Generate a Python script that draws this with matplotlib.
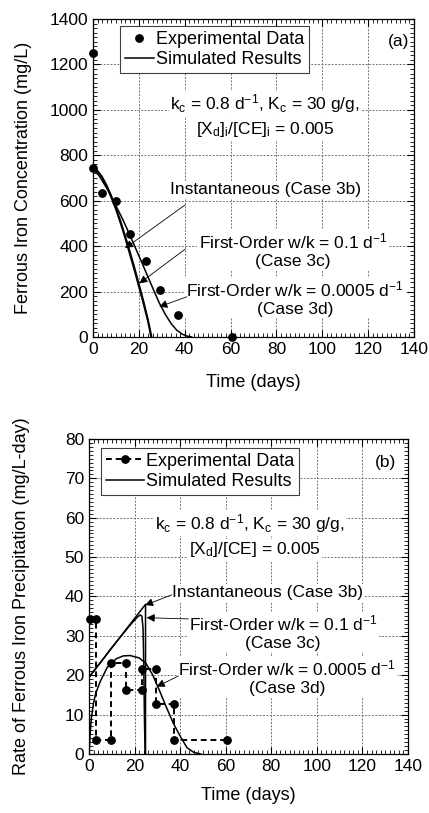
import numpy as np
import matplotlib
matplotlib.use("Agg")
import matplotlib.pyplot as plt
from matplotlib.ticker import MultipleLocator

plt.rcParams["font.family"] = ["Liberation Sans", "DejaVu Sans"]
plt.rcParams["mathtext.fontset"] = "custom"
plt.rcParams["mathtext.rm"] = "Liberation Sans"
plt.rcParams["mathtext.it"] = "Liberation Sans:italic"

# ---- panel (a): ferrous iron concentration ----
exp_t_a = [0, 0, 3.8, 9.9, 16.3, 23.2, 29.0, 36.9, 60.5]
exp_c_a = [1250, 742, 633, 600, 452, 335, 206, 97, 0]

inst_t_a = [0, 2, 4, 6, 8, 10, 12, 14, 16, 18, 20, 22, 24, 25.3]
inst_c_a = [740, 728, 700, 660, 612, 560, 500, 435, 365, 295, 220, 145, 65, 0]

fo1_t_a = [0, 2, 4, 6, 8, 10, 12, 14, 16, 18, 20, 22, 24, 25.6]
fo1_c_a = [742, 732, 706, 668, 622, 570, 512, 448, 380, 310, 236, 160, 78, 0]

fo2_t_a = [0, 3, 7.3, 10, 13.1, 16, 18.9, 21.5, 23.9, 26.5, 29, 31.5, 34, 36.5, 39, 41, 43]
fo2_c_a = [742, 705, 633, 578, 515, 450, 383, 323, 266, 205, 148, 100, 60, 30, 12, 4, 0]

# ---- panel (b): precipitation rate ----
exp_t_b = [0.4, 3.0, 3.0, 9.5, 9.5, 16.1, 16.1, 23.1, 23.1, 29.2, 29.2, 37.3, 37.3, 60.4]
exp_r_b = [34.3, 34.3, 3.6, 3.6, 23.0, 23.0, 16.2, 16.2, 21.6, 21.6, 12.7, 12.7, 3.6, 3.6]

inst_t_b = [0, 24.8, 24.8]
inst_r_b = [19.5, 38.0, 0]

fo1_t_b = [0, 5, 10, 15, 18, 20, 21.5, 22.5, 23.2, 23.7, 24.0, 24.3, 24.6]
fo1_r_b = [19.5, 23.2, 27.0, 30.6, 32.7, 34.0, 34.9, 35.3, 35.0, 32.0, 24.0, 10.0, 0]

fo2_t_b = [0, 0.5, 1, 2, 3, 5, 8, 12, 15, 18, 22, 25, 28, 31, 34, 37, 40, 43, 46, 49]
fo2_r_b = [0, 5, 9, 13, 15.5, 18.5, 22, 24.2, 24.9, 25, 24.4, 23, 20, 16, 11.8, 7.8, 4.5, 1.6, 0.4, 0]

ANN = 12.5
BOX = dict(facecolor="white", edgecolor="none", pad=1.0)
ARW = dict(arrowstyle="-|>", color="k", lw=0.6, mutation_scale=12, shrinkA=0, shrinkB=0)


def style_axes(ax, xmax, ymax, ymaj, ymin):
    ax.set_xlim(0, xmax)
    ax.set_ylim(0, ymax)
    ax.xaxis.set_major_locator(MultipleLocator(20))
    ax.xaxis.set_minor_locator(MultipleLocator(2))
    ax.yaxis.set_major_locator(MultipleLocator(ymaj))
    ax.yaxis.set_minor_locator(MultipleLocator(ymin))
    ax.tick_params(which="both", direction="in", top=True, right=True, labelsize=12.5)
    ax.tick_params(which="major", length=5, width=0.8)
    ax.tick_params(which="minor", length=3, width=0.6)
    ax.grid(True, which="major", color="0.45", linestyle=(0, (2, 1.5)), linewidth=0.7)
    ax.set_axisbelow(True)
    for s in ax.spines.values():
        s.set_linewidth(0.9)
    ax.set_xlabel("Time (days)", fontsize=13)


def add_legend(ax, anchor, hlen):
    leg = ax.legend(loc="upper left", bbox_to_anchor=anchor, fontsize=13, frameon=True,
                    fancybox=False, edgecolor="0.25", framealpha=1, handlelength=hlen,
                    handletextpad=0.12, borderpad=0.28, labelspacing=0.18, borderaxespad=0)
    leg.get_frame().set_linewidth(0.8)
    return leg


fig = plt.figure(figsize=(4.29, 8.13), dpi=100)
ax1 = fig.add_axes([0.2168, 0.5855, 0.7483, 0.3911])
ax2 = fig.add_axes([0.2075, 0.0726, 0.7436, 0.3875])

# panel (a)
style_axes(ax1, 140, 1400, 200, 20)
ax1.plot(exp_t_a, exp_c_a, "o", color="k", ms=5.3, clip_on=False, zorder=5, label="Experimental Data")
ax1.plot(inst_t_a, inst_c_a, "-", color="k", lw=1.1, label="Simulated Results")
ax1.plot(fo1_t_a, fo1_c_a, "-", color="k", lw=1.1)
ax1.plot(fo2_t_a, fo2_c_a, "-", color="k", lw=1.1)
ax1.set_ylabel("Ferrous Iron Concentration (mg/L)", fontsize=13)
ax1.xaxis.set_label_coords(0.5, -0.115)
ax1.yaxis.set_label_coords(-0.19, 0.5)
ax1.xaxis.label.set_va("top")
add_legend(ax1, (0.084, 0.978), 1.6)
ax1.text(0.951, 0.93, "(a)", transform=ax1.transAxes, ha="center", va="center", fontsize=ANN)
ax1.text(0.536, 0.733, r"k$_\mathrm{c}$ = 0.8 d$^{\mathrm{-1}}$, K$_\mathrm{c}$ = 30 g/g,",
         transform=ax1.transAxes, ha="center", va="center", fontsize=ANN, bbox=BOX)
ax1.text(0.536, 0.654, r"[X$_\mathrm{d}$]$_\mathrm{i}$/[CE]$_\mathrm{i}$ = 0.005",
         transform=ax1.transAxes, ha="center", va="center", fontsize=ANN, bbox=BOX)
ax1.text(0.536, 0.463, "Instantaneous (Case 3b)", transform=ax1.transAxes,
         ha="center", va="center", fontsize=ANN, bbox=BOX)
ax1.annotate("", xy=(14.0, 391), xytext=(40.1, 581), arrowprops=ARW)
ax1.text(0.623, 0.272, "First-Order w/k = 0.1 d$^{\\mathrm{-1}}$\n(Case 3c)", transform=ax1.transAxes,
         ha="center", va="center", fontsize=ANN, linespacing=1.2, bbox=BOX)
ax1.annotate("", xy=(20.2, 236), xytext=(40.1, 386), arrowprops=ARW)
ax1.text(0.63, 0.122, "First-Order w/k = 0.0005 d$^{\\mathrm{-1}}$\n(Case 3d)", transform=ax1.transAxes,
         ha="center", va="center", fontsize=ANN, linespacing=1.2, bbox=BOX)
ax1.annotate("", xy=(28.9, 133), xytext=(40.9, 177), arrowprops=ARW)

# panel (b)
style_axes(ax2, 140, 80, 10, 1)
ax2.plot(exp_t_b, exp_r_b, "--o", color="k", ms=5.3, lw=1.4, dashes=(3, 2), clip_on=False, zorder=5,
         label="Experimental Data")
ax2.plot(inst_t_b, inst_r_b, "-", color="k", lw=1.1, label="Simulated Results")
ax2.plot(fo1_t_b, fo1_r_b, "-", color="k", lw=1.1)
ax2.plot(fo2_t_b, fo2_r_b, "-", color="k", lw=1.1)
ax2.set_ylabel("Rate of Ferrous Iron Precipitation (mg/L-day)", fontsize=13)
ax2.xaxis.set_label_coords(0.5, -0.105)
ax2.yaxis.set_label_coords(-0.185, 0.5)
ax2.xaxis.label.set_va("top")
add_legend(ax2, (0.037, 0.972), 2.1)
ax2.text(0.93, 0.924, "(b)", transform=ax2.transAxes, ha="center", va="center", fontsize=ANN)
ax2.text(0.505, 0.733, r"k$_\mathrm{c}$ = 0.8 d$^{\mathrm{-1}}$, K$_\mathrm{c}$ = 30 g/g,",
         transform=ax2.transAxes, ha="center", va="center", fontsize=ANN, bbox=BOX)
ax2.text(0.52, 0.648, r"[X$_\mathrm{d}$]/[CE] = 0.005",
         transform=ax2.transAxes, ha="center", va="center", fontsize=ANN, bbox=BOX)
ax2.text(0.561, 0.511, "Instantaneous (Case 3b)", transform=ax2.transAxes,
         ha="center", va="center", fontsize=ANN, bbox=BOX)
ax2.annotate("", xy=(24.6, 37.8), xytext=(36.3, 40.4), arrowprops=ARW)
ax2.text(0.608, 0.386, "First-Order w/k = 0.1 d$^{\\mathrm{-1}}$\n(Case 3c)", transform=ax2.transAxes,
         ha="center", va="center", fontsize=ANN, linespacing=1.2, bbox=BOX)
ax2.annotate("", xy=(25.3, 34.6), xytext=(43.6, 34.3), arrowprops=ARW)
ax2.text(0.62, 0.243, "First-Order w/k = 0.0005 d$^{\\mathrm{-1}}$\n(Case 3d)", transform=ax2.transAxes,
         ha="center", va="center", fontsize=ANN, linespacing=1.2, bbox=BOX)
ax2.annotate("", xy=(29.7, 17.1), xytext=(39.2, 19.8), arrowprops=ARW)

fig.savefig("out.png", dpi=100)
